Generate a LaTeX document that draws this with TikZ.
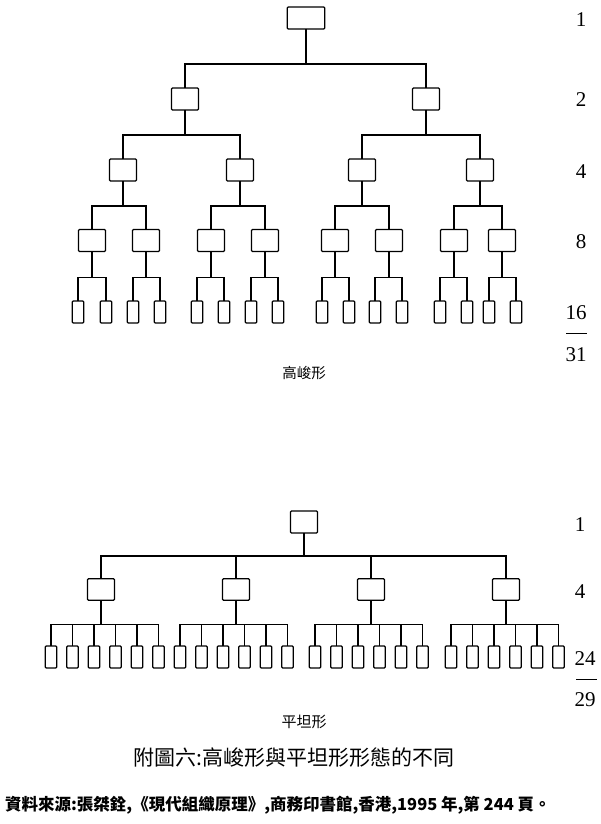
\documentclass[tikz,border=0pt]{standalone}
\usepackage{fontspec}
\newfontfamily\cjk{Noto Sans CJK TC}
\newfontfamily\numfont{Liberation Serif}
\tikzset{root_box/.style={inner sep=0pt, outer sep=0pt, rectangle, rounded corners=1pt, draw=black, line width=1.2pt, minimum width=37.5pt, minimum height=22pt}}
\tikzset{mid_box/.style={inner sep=0pt, outer sep=0pt, rectangle, rounded corners=1pt, draw=black, line width=1.2pt, minimum width=27pt, minimum height=22pt}}
\tikzset{leaf_box/.style={inner sep=0pt, outer sep=0pt, rectangle, rounded corners=1pt, draw=black, line width=1.2pt, minimum width=11.5pt, minimum height=22pt}}
\tikzset{tree_edge/.style={color=black, line width=1.2pt}}
\tikzset{level_num/.style={inner sep=0pt, font=\numfont\fontsize{21}{24}\selectfont}}
\tikzset{cjk_text/.style={inner sep=0pt, font=\cjk\fontsize{14.5}{17}\selectfont}}

\begin{document}
\begin{tikzpicture}[x=1pt, y=-1pt]
    \useasboundingbox (0,0) rectangle (600,824);
    % tall form
    \node[root_box] (r) at (306,18) {};
    \foreach \x [count=\i] in {185,426} \node[mid_box] (a\i) at (\x,99) {};
    \foreach \x [count=\i] in {123,240,362,480} \node[mid_box] (b\i) at (\x,170) {};
    \foreach \x [count=\i] in {92,146,211,265,335,389,454,502} \node[mid_box] (c\i) at (\x,240.5) {};
    \foreach \x [count=\i] in {78,106,133,160,197,224,251,278,322,349,375,402,440,467,489,516}
      \node[leaf_box] (d\i) at (\x,312) {};
    \foreach \i in {1,2} \draw[tree_edge] (r.south) -- ++(0,35) -| (a\i.north);
    \foreach \i [evaluate=\i as \j using {int((\i+1)/2)}] in {1,...,4}
      \draw[tree_edge] (a\j.south) -- ++(0,25) -| (b\i.north);
    \foreach \i [evaluate=\i as \j using {int((\i+1)/2)}] in {1,...,8}
      \draw[tree_edge] (b\j.south) -- ++(0,25) -| (c\i.north);
    \foreach \i [evaluate=\i as \j using {int((\i+1)/2)}] in {1,...,16}
      \draw[tree_edge] (c\j.south) -- ++(0,26) -| (d\i.north);
    \node[level_num] (n1) at (581,20) {1};
    \node[level_num] (n2) at (581,100) {2};
    \node[level_num] (n4) at (581,172) {4};
    \node[level_num] (n8) at (581,242) {8};
    \node[level_num] (n16) at (576,313) {16};
    \draw[line width=0.9pt] (566,333) -- (587,333);
    \node[level_num] (n31) at (576,355) {31};
    \node[cjk_text] (tall) at (304,373) {高峻形};
    % flat form
    \node[mid_box] (s) at (304,522) {};
    \foreach \x [count=\i] in {101,236,371,506} {
      \node[mid_box, minimum height=21.5pt] (e\i) at (\x,589.5) {};
      \draw[tree_edge] (s.south) -- ++(0,23) -| (e\i.north);
    }
    \foreach \g/\s in {1/51,2/180,3/315,4/451}
      \foreach \k in {0,...,5} {
        \pgfmathtruncatemacro\n{6*(\g-1)+\k+1}
        \node[leaf_box] (f\n) at (\s+\k*21.5,657) {};
        \draw[tree_edge] (e\g.south) -- ++(0,24) -| (f\n.north);
      }
    \node[level_num] (m1) at (580,525) {1};
    \node[level_num] (m4) at (580,592) {4};
    \node[level_num] (m24) at (585,659) {24};
    \draw[line width=0.9pt] (576,679) -- (597,679);
    \node[level_num] (m29) at (585,700) {29};
    \node[cjk_text, font=\cjk\fontsize{15}{18}\selectfont] (flat) at (304,722) {平坦形};
    % caption and source
    \node[cjk_text, font=\cjk\fontsize{21}{25}\selectfont] (title) at (294,758) {附圖六:高峻形與平坦形形態的不同};
    \node[cjk_text, font=\cjk\bfseries\fontsize{16.5}{20}\selectfont, anchor=west] (src) at (5,805)
      {資料來源:張桀銓,《現代組織原理》,商務印書館,香港,1995 年,第 244 頁。};
\end{tikzpicture}
\end{document}
